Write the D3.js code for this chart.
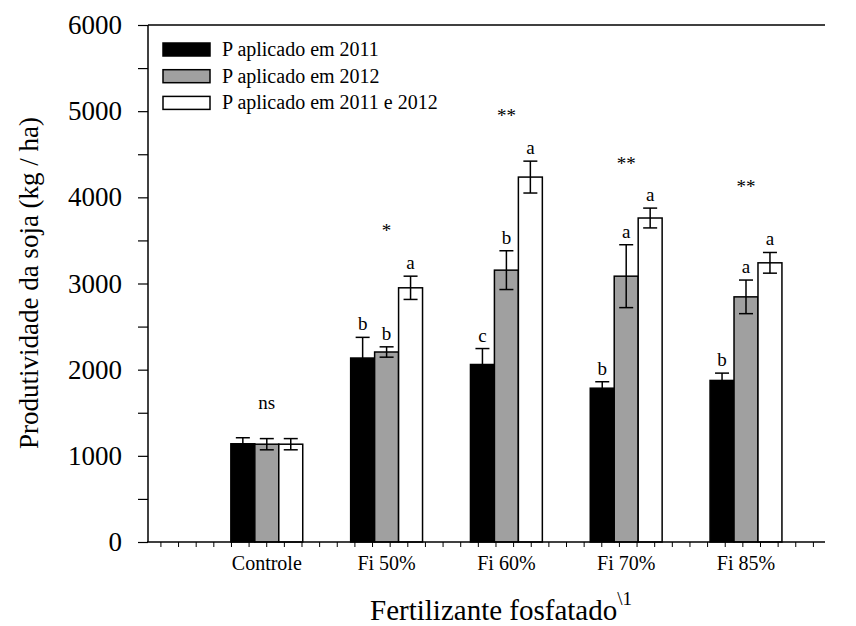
<!DOCTYPE html>
<html>
<head>
<meta charset="utf-8">
<script src="https://cdn.jsdelivr.net/npm/d3@7"></script>
<style>
  body { margin: 0; background: #fff; }
  text { font-family: "Liberation Serif", "Times New Roman", serif; fill: #000; }
</style>
</head>
<body>
<svg id="chart" width="856" height="626"></svg>
<script>
// Data
const categories = ["Controle", "Fi 50%", "Fi 60%", "Fi 70%", "Fi 85%"];
const seriesNames = ["P aplicado em 2011", "P aplicado em 2012", "P aplicado em 2011 e 2012"];
const seriesColors = ["#000000", "#a0a0a0", "#ffffff"];

const yield2011 = [1140, 2135, 2060, 1785, 1875];
const yield2012 = [1135, 2205, 3155, 3085, 2845];
const yieldBoth = [1135, 2950, 4235, 3760, 3240];
const err2011 = [70, 240, 185, 75, 85];
const err2012 = [65, 60, 225, 365, 195];
const errBoth = [65, 135, 185, 115, 120];

const letters2011 = ["", "b", "c", "b", "b"];
const letters2012 = ["", "b", "b", "a", "a"];
const lettersBoth = ["", "a", "a", "a", "a"];

const signifLabels = ["ns", "*", "**", "**", "**"];
const signifHeights = [1540, 3535, 4870, 4315, 4050];

const yTicks = [0, 1000, 2000, 3000, 4000, 5000, 6000];

const svg = d3.select("#chart");

// Scales
const plotRight = 825, plotTop = 25, plotBottom = 542;
const x = d3.scaleLinear().domain([0, 1]).range([147, 266.8]);
const xEnd = x.invert(plotRight);
const y = d3.scaleLinear().domain([0, 6000]).range([plotBottom, plotTop]);
const barW = 0.2; // in x units

const values = [yield2011, yield2012, yieldBoth];
const errors = [err2011, err2012, errBoth];
const letters = [letters2011, letters2012, lettersBoth];

// Build a flat table of bars
const bars = [];
categories.forEach((c, i) => {
    values.forEach((v, s) => {
        bars.push({
            cat: c, series: s,
            x0: (i + 1) - 1.5 * barW + s * barW,
            value: v[i], err: errors[s][i], letter: letters[s][i]
        });
    });
});

// Frame: top line
svg.append("line")
    .attr("x1", x(0) + 1).attr("x2", plotRight)
    .attr("y1", y(6000)).attr("y2", y(6000))
    .attr("stroke", "#000").attr("stroke-width", 1.5);

// Bars
svg.selectAll(".bar")
    .data(bars)
    .enter()
    .append("rect")
    .attr("class", "bar")
    .attr("x", d => x(d.x0))
    .attr("y", d => y(d.value))
    .attr("width", d => x(d.x0 + barW) - x(d.x0))
    .attr("height", d => y(0) - y(d.value))
    .attr("fill", d => seriesColors[d.series])
    .attr("stroke", "#000")
    .attr("stroke-width", 1.5);

// Error bars
const errG = svg.selectAll(".err")
    .data(bars)
    .enter()
    .append("g")
    .attr("class", "err")
    .attr("stroke", "#000")
    .attr("stroke-width", 1.5);

errG.append("line")
    .attr("x1", d => x(d.x0 + barW / 2)).attr("x2", d => x(d.x0 + barW / 2))
    .attr("y1", d => y(d.value - d.err)).attr("y2", d => y(d.value + d.err));
errG.append("line")
    .attr("x1", d => x(d.x0 + barW / 2) - 7).attr("x2", d => x(d.x0 + barW / 2) + 7)
    .attr("y1", d => y(d.value + d.err)).attr("y2", d => y(d.value + d.err));
errG.append("line")
    .attr("x1", d => x(d.x0 + barW / 2) - 7).attr("x2", d => x(d.x0 + barW / 2) + 7)
    .attr("y1", d => y(d.value - d.err)).attr("y2", d => y(d.value - d.err));

// Letters above bars
svg.selectAll(".letter")
    .data(bars.filter(d => d.letter))
    .enter()
    .append("text")
    .attr("class", "letter")
    .attr("x", d => x(d.x0 + barW / 2))
    .attr("y", d => y(d.value + d.err) - 7)
    .attr("text-anchor", "middle")
    .style("font-size", "19px")
    .text(d => d.letter);

// Significance marks
svg.selectAll(".signif")
    .data(signifLabels)
    .enter()
    .append("text")
    .attr("class", "signif")
    .attr("x", (d, i) => x(i + 1))
    .attr("y", (d, i) => y(signifHeights[i]))
    .attr("text-anchor", "middle")
    .style("font-size", "19px")
    .text(d => d);

// X axis
const xTicks = d3.range(0.112, xEnd, 0.1472);
const xAxis = d3.axisBottom(x)
    .tickValues(xTicks)
    .tickSize(5)
    .tickFormat("");
const gx = svg.append("g")
    .attr("transform", `translate(0, ${y(0)})`)
    .call(xAxis);
gx.select(".domain").attr("d", `M${x(0)},0H${plotRight}`).attr("stroke-width", 1.5);
gx.selectAll(".tick line").attr("stroke-width", 1);

// Category labels
svg.selectAll(".cat")
    .data(categories)
    .enter()
    .append("text")
    .attr("class", "cat")
    .attr("x", (d, i) => x(i + 1))
    .attr("y", 570)
    .attr("text-anchor", "middle")
    .style("font-size", "20px")
    .text(d => d);

// Y axis
const yAxis = d3.axisLeft(y)
    .tickValues(d3.range(0, 6001, 500))
    .tickSize(10)
    .tickFormat(d => yTicks.includes(d) ? d : "");
const gy = svg.append("g")
    .attr("transform", `translate(${x(0) + 1}, 0)`)
    .call(yAxis);
gy.select(".domain").attr("d", `M0,${y(0)}V${y(6000)}`).attr("stroke-width", 1.5);
gy.selectAll(".tick line").attr("stroke-width", 1.2);
gy.selectAll(".tick text")
    .attr("x", -26)
    .style("font-family", "Liberation Serif")
    .style("font-size", "27px");

// Axis titles
svg.append("text")
    .attr("transform", `translate(38, 283) rotate(-90)`)
    .attr("text-anchor", "middle")
    .style("font-size", "27px")
    .text("Produtividade da soja (kg / ha)");

const xt = svg.append("text")
    .attr("x", 370)
    .attr("y", 620)
    .style("font-size", "29px");
xt.append("tspan").text("Fertilizante fosfatado");
xt.append("tspan")
    .attr("dy", -15)
    .style("font-size", "19px")
    .text("\\1");

// Legend
const legend = svg.append("g")
    .attr("transform", "translate(163, 43)");
legend.selectAll(".legend-item")
    .data(seriesNames)
    .enter()
    .append("g")
    .attr("class", "legend-item")
    .attr("transform", (d, i) => `translate(0, ${i * 26.7})`)
    .each(function (d, i) {
        d3.select(this)
            .append("rect")
            .attr("width", 47)
            .attr("height", 13)
            .attr("fill", seriesColors[i])
            .attr("stroke", "#000")
            .attr("stroke-width", 1.5);
        d3.select(this)
            .append("text")
            .attr("x", 59)
            .attr("y", 13)
            .style("font-size", "20px")
            .text(d);
    });
</script>
</body>
</html>
